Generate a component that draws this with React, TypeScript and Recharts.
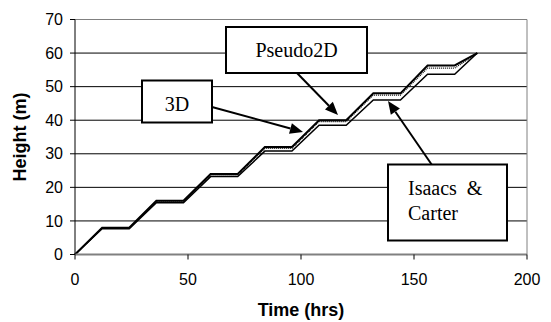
import React from "react";
import { LineChart, Line, XAxis, YAxis, CartesianGrid, ReferenceLine, Label } from "recharts";

const times = [0, 12, 24, 36, 48, 60, 72, 84, 96, 108, 120, 132, 144, 156, 168, 178];
const pseudo2D = [0, 8, 8, 16, 16, 24, 24, 32, 32, 40, 40, 48, 48, 56.3, 56.3, 60];
const threeD = [0, 7.9, 7.9, 15.8, 15.8, 23.7, 23.7, 31.6, 31.6, 39.6, 39.6, 47.5, 47.5, 55.5, 55.5, 60];
const isaacsCarter = [0, 7.7, 7.7, 15.4, 15.4, 23.2, 23.2, 30.8, 30.8, 38.5, 38.5, 46, 46, 53.7, 53.7, 60];
const xTicks = [0, 50, 100, 150, 200];
const yTicks = [0, 10, 20, 30, 40, 50, 60, 70];

const data = times.map((t, i) => ({
  t,
  pseudo2D: pseudo2D[i],
  threeD: threeD[i],
  isaacs: isaacsCarter[i],
}));

const serif = "'Liberation Serif', 'Times New Roman', serif";
const sans = "'Liberation Sans', Arial, sans-serif";

function Arrow({ x1, y1, x2, y2 }: { x1: number; y1: number; x2: number; y2: number }) {
  const ang = Math.atan2(y2 - y1, x2 - x1);
  const L = 13;
  const W = 5.5;
  const bx = x2 - L * Math.cos(ang);
  const by = y2 - L * Math.sin(ang);
  const px = -Math.sin(ang) * W;
  const py = Math.cos(ang) * W;
  return (
    <g>
      <line x1={x1} y1={y1} x2={bx} y2={by} stroke="#000" strokeWidth={2} />
      <polygon points={`${x2},${y2} ${bx + px},${by + py} ${bx - px},${by - py}`} fill="#000" />
    </g>
  );
}

export default function App() {
  return (
    <div style={{ position: "absolute", left: 0, top: 0, width: 551, height: 322, background: "#fff" }}>
      <LineChart
        width={551}
        height={322}
        data={data}
        margin={{ top: 19.5, right: 24, left: 0, bottom: 0 }}
      >
        <CartesianGrid vertical={false} stroke="#000" strokeWidth={1} />
        <ReferenceLine y={70} stroke="#808080" strokeWidth={1} />
        <ReferenceLine x={200} stroke="#808080" strokeWidth={1} />
        <XAxis
          dataKey="t"
          type="number"
          domain={[0, 200]}
          ticks={xTicks}
          height={67.5}
          stroke="#808080"
          strokeWidth={2}
          tickSize={5}
          tickMargin={14}
          tick={{ fill: "#000", fontSize: 16, fontFamily: sans }}
          tickLine={{ stroke: "#000", strokeWidth: 1 }}
        >
          <Label
            value="Time (hrs)"
            position="insideBottom"
            offset={6}
            style={{ fontFamily: sans, fontSize: 18, fontWeight: "bold", fill: "#000" }}
          />
        </XAxis>
        <YAxis
          type="number"
          domain={[0, 70]}
          ticks={yTicks}
          width={75}
          stroke="#000"
          tickSize={5}
          tickMargin={7}
          tick={{ fill: "#000", fontSize: 16, fontFamily: sans }}
        >
          <Label
            value="Height (m)"
            angle={-90}
            position="insideLeft"
            offset={20}
            style={{ fontFamily: sans, fontSize: 18, fontWeight: "bold", fill: "#000", textAnchor: "middle" }}
          />
        </YAxis>
        <Line dataKey="isaacs" type="linear" stroke="#000" strokeWidth={1.5} dot={false} isAnimationActive={false} />
        <Line dataKey="threeD" type="linear" stroke="#000" strokeWidth={1.2} strokeDasharray="1 1" dot={false} isAnimationActive={false} />
        <Line dataKey="pseudo2D" type="linear" stroke="#000" strokeWidth={2} dot={false} isAnimationActive={false} />
      </LineChart>
      <svg width={551} height={322} style={{ position: "absolute", left: 0, top: 0, pointerEvents: "none" }}>
        <Arrow x1={212} y1={107} x2={303} y2={132} />
        <Arrow x1={297} y1={73} x2={338} y2={115} />
        <Arrow x1={432} y1={165} x2={388} y2={101} />
        <rect x={226} y={27} width={141} height={46} fill="#fff" stroke="#000" strokeWidth={2} />
        <text x={296.5} y={57} textAnchor="middle" fontFamily={serif} fontSize={20} fill="#000">Pseudo2D</text>
        <rect x={142} y={80.5} width={70} height={42} fill="#fff" stroke="#000" strokeWidth={2} />
        <text x={177} y={111} textAnchor="middle" fontFamily={serif} fontSize={20} fill="#000">3D</text>
        <rect x={388} y={164.5} width={119} height={76} fill="#fff" stroke="#000" strokeWidth={2} />
        <text x={408} y={195} fontFamily={serif} fontSize={20} fill="#000" style={{ whiteSpace: "pre" }}>Isaacs  &amp;</text>
        <text x={408} y={220} fontFamily={serif} fontSize={20} fill="#000">Carter</text>
      </svg>
    </div>
  );
}
